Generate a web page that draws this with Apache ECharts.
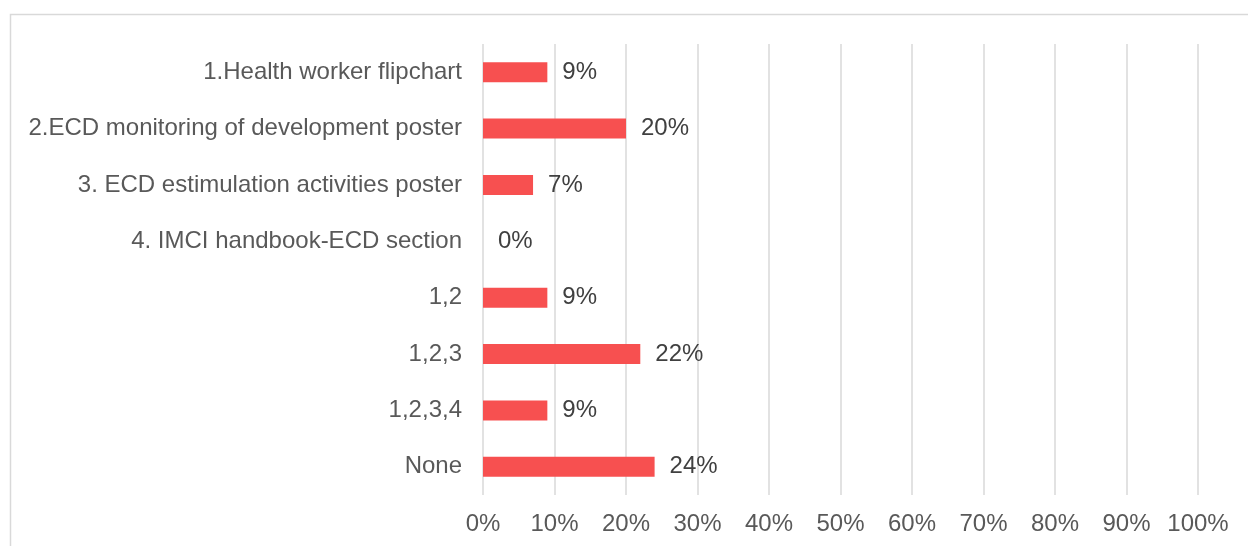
<!DOCTYPE html>
<html>
<head>
<meta charset="utf-8">
<style>
  html, body { margin: 0; padding: 0; background: #fff; }
  #chart { width: 1248px; height: 546px; }
</style>
<script src="https://cdn.jsdelivr.net/npm/echarts@6/dist/echarts.min.js"></script>
</head>
<body>
<div id="chart"></div>
<script>
// Materials reported, top to bottom
const categories = [
  '1.Health worker flipchart',
  '2.ECD monitoring of development poster',
  '3. ECD estimulation activities poster',
  '4. IMCI handbook-ECD section',
  '1,2',
  '1,2,3',
  '1,2,3,4',
  'None'
];
// Share of respondents, in percent
const shares = [9, 20, 7, 0, 9, 22, 9, 24];
const tickValues = [0, 10, 20, 30, 40, 50, 60, 70, 80, 90, 100];

const chart = echarts.init(document.getElementById('chart'), null, { renderer: 'canvas' });
const font = 'Liberation Sans, Arial, sans-serif';

chart.setOption({
  animation: false,
  backgroundColor: '#ffffff',
  graphic: [{
    type: 'rect',
    shape: { x: 10.5, y: 14.5, width: 1260, height: 560 },
    style: { fill: 'none', stroke: '#d9d9d9', lineWidth: 1.5 },
    silent: true
  }],
  grid: { left: 483, right: 50, top: 44, bottom: 51, containLabel: false },
  xAxis: {
    type: 'value',
    min: tickValues[0],
    max: tickValues[tickValues.length - 1],
    interval: 10,
    axisLine: { show: false },
    axisTick: { show: false },
    splitLine: { show: true, lineStyle: { color: '#d9d9d9', width: 1.5 } },
    axisLabel: {
      formatter: v => v + '%',
      color: '#595959',
      fontFamily: font,
      fontSize: 24,
      margin: 17
    }
  },
  yAxis: {
    type: 'category',
    data: categories,
    inverse: true,
    axisLine: { show: false },
    axisTick: { show: false },
    axisLabel: {
      color: '#595959',
      fontFamily: font,
      fontSize: 24,
      margin: 21
    }
  },
  series: [{
    type: 'bar',
    data: shares,
    barWidth: 20,
    itemStyle: { color: '#f75050' },
    label: {
      show: true,
      position: 'right',
      distance: 15,
      formatter: p => p.value + '%',
      color: '#404040',
      fontFamily: font,
      fontSize: 24
    }
  }]
});
</script>
</body>
</html>
